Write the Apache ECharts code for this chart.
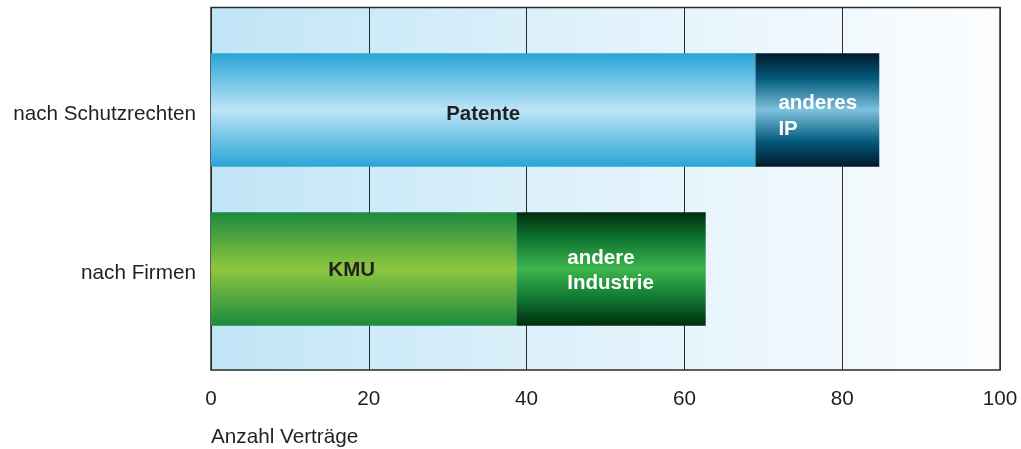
<!DOCTYPE html>
<html>
<head>
<meta charset="utf-8">
<script src="https://cdn.jsdelivr.net/npm/echarts@6/dist/echarts.min.js"></script>
<style>
  html, body { margin: 0; padding: 0; background: #ffffff; }
  #chart { width: 1021px; height: 449px; }
</style>
</head>
<body>
<div id="chart"></div>
<script>
// Contract counts, split two ways
const categories = ['nach Schutzrechten', 'nach Firmen'];
const innerNames = ['Patente', 'KMU'];
const innerValues = [69, 38.7];
const outerNames = ['anderes\nIP', 'andere\nIndustrie'];
const outerValues = [15.7, 24];
const axisMin = 0;
const axisMax = 100;
const axisStep = 20;
const axisTitle = 'Anzahl Verträge';

const FONT = '"Liberation Sans", Arial, Helvetica, sans-serif';
const TEXT = '#231f20';
const SIZE = 20.7;
const BOLD_SIZE = 20.5;

function vGrad(stops) {
  return new echarts.graphic.LinearGradient(0, 0, 0, 1,
    stops.map(s => ({ offset: s[0], color: s[1] })));
}

const innerFills = [
  vGrad([[0, '#29a5d6'], [0.5, '#bde4f7'], [1, '#29a5d6']]),
  vGrad([[0, '#1c8a3e'], [0.5, '#8dc63f'], [1, '#1c8a3e']])
];
const outerFills = [
  vGrad([[0, '#02192b'], [0.22, '#035a7c'], [0.5, '#7dc1dd'], [0.78, '#035a7c'], [1, '#02192b']]),
  vGrad([[0, '#002d0c'], [0.25, '#117a33'], [0.5, '#3db54b'], [0.75, '#117a33'], [1, '#002d0c']])
];
const innerLabelOffsets = [[0, 4], [-12, 1]];
const outerLabelDist = [23, 51];
const outerLabelOffsets = [[0, 6], [0, 2]];
const outerLineHeights = [26, 25];

const chart = echarts.init(document.getElementById('chart'), null, { renderer: 'canvas' });

chart.setOption({
  animation: false,
  textStyle: { fontFamily: FONT },
  grid: [
    {
      // framed plot area with the soft blue background
      left: 211, right: 21, top: 7.5, bottom: 79,
      show: true,
      borderColor: '#2b2b2b',
      borderWidth: 1.5,
      backgroundColor: new echarts.graphic.LinearGradient(0, 0, 1, 0, [
        { offset: 0, color: '#c0e5f7' },
        { offset: 0.5, color: '#e1f2fb' },
        { offset: 1, color: '#fcfdff' }
      ])
    },
    {
      // band layout for the two bars
      left: 211, right: 21, top: 30.5, bottom: 100.5
    }
  ],
  xAxis: [
    {
      gridIndex: 0, type: 'value', min: axisMin, max: axisMax, interval: axisStep,
      axisLine: { show: false }, axisTick: { show: false },
      splitLine: { show: true, lineStyle: { color: '#2b2b2b', width: 1 } },
      axisLabel: { color: TEXT, fontSize: SIZE, fontFamily: FONT, margin: 19 }
    },
    {
      gridIndex: 1, type: 'value', min: axisMin, max: axisMax, show: false
    }
  ],
  yAxis: [
    { gridIndex: 0, type: 'value', show: false },
    {
      gridIndex: 1, type: 'category', data: categories, inverse: true,
      axisLine: { show: false }, axisTick: { show: false }, splitLine: { show: false },
      axisLabel: {
        color: TEXT, fontSize: SIZE, fontFamily: FONT, margin: 15,
        formatter: v => '{c|' + v + '}',
        rich: { c: { color: TEXT, fontSize: SIZE, fontFamily: FONT, padding: [8, 0, 0, 0] } }
      }
    }
  ],
  graphic: [
    {
      type: 'text', left: 211, top: 427,
      style: { text: axisTitle, fill: TEXT, font: SIZE + 'px ' + FONT }
    }
  ],
  series: [
    {
      type: 'bar', xAxisIndex: 1, yAxisIndex: 1, stack: 'total', barWidth: 113.5,
      data: innerValues.map((v, i) => ({
        value: v,
        itemStyle: { color: innerFills[i] },
        label: {
          show: true, position: 'inside', formatter: innerNames[i],
          color: TEXT, fontWeight: 'bold', fontSize: BOLD_SIZE, fontFamily: FONT,
          offset: innerLabelOffsets[i]
        }
      }))
    },
    {
      type: 'bar', xAxisIndex: 1, yAxisIndex: 1, stack: 'total', barWidth: 113.5,
      data: outerValues.map((v, i) => ({
        value: v,
        itemStyle: { color: outerFills[i] },
        label: {
          show: true, position: 'insideLeft', distance: outerLabelDist[i],
          formatter: outerNames[i], align: 'left',
          color: '#ffffff', fontWeight: 'bold', fontSize: BOLD_SIZE, fontFamily: FONT,
          lineHeight: outerLineHeights[i], offset: outerLabelOffsets[i]
        }
      }))
    }
  ]
});
</script>
</body>
</html>
